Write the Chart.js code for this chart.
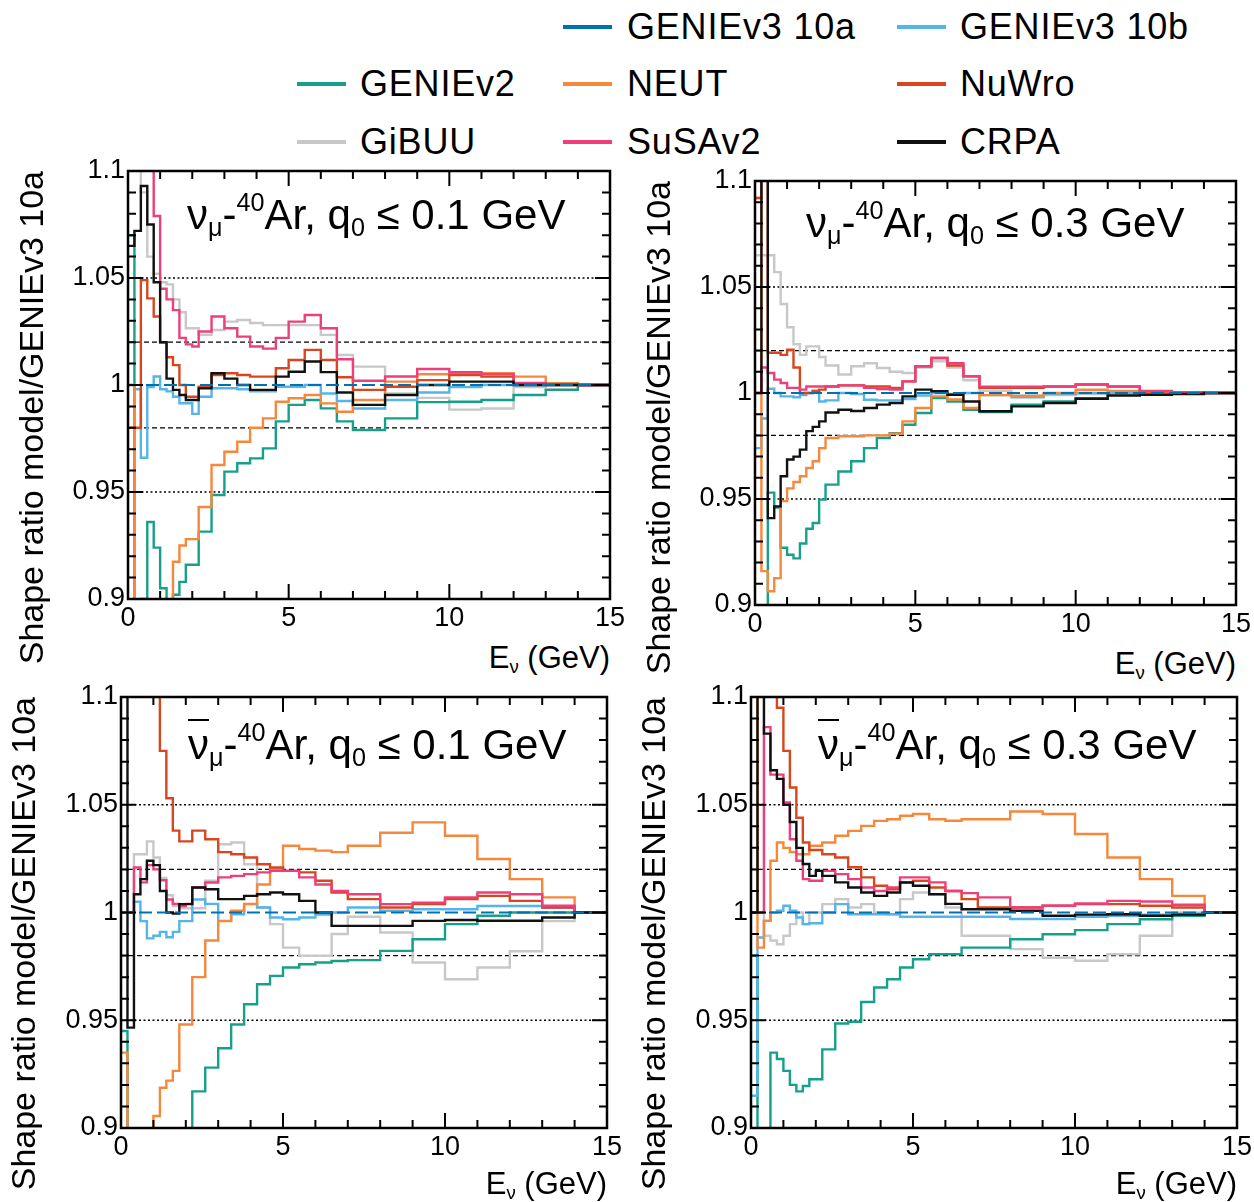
<!DOCTYPE html>
<html>
<head>
<meta charset="utf-8">
<script src="https://cdn.jsdelivr.net/npm/chart.js@4.4.1/dist/chart.umd.min.js"></script>
<style>
  body { margin: 0; background: #fff; }
  #page { position: relative; width: 1254px; height: 1202px; overflow: hidden;
          font-family: 'Liberation Sans', Arial, sans-serif; color: #000; }
  canvas { position: absolute; }
  .lg-line { position: absolute; height: 4px; width: 49px; }
  .lg-text { position: absolute; font-size: 36px; line-height: 36px; white-space: nowrap; letter-spacing: 0.8px; }
  .ttl { position: absolute; font-size: 42px; line-height: 42px; white-space: nowrap; }
  .ttl sub, .xt sub { position: relative; top: 0.28em; font-size: 0.6em; vertical-align: baseline; }
  .ttl sup { position: relative; top: -0.72em; font-size: 0.6em; vertical-align: baseline; }
  .bar { text-decoration: overline; text-decoration-thickness: 2px; }
  .yt { position: absolute; width: 600px; text-align: right; font-size: 34px; line-height: 34px;
        white-space: nowrap; transform-origin: 0 0; transform: rotate(-90deg); }
  .xt { position: absolute; width: 300px; text-align: right; font-size: 31px; line-height: 31px; white-space: nowrap; }
</style>
</head>
<body>
<div id="page">
  <div class="lg-line" style="left:563px;top:25px;background:#0072b2"></div>
  <div class="lg-text" style="left:627px;top:9px">GENIEv3 10a</div>
  <div class="lg-line" style="left:897px;top:25px;background:#56b4e9"></div>
  <div class="lg-text" style="left:960px;top:9px">GENIEv3 10b</div>

  <div class="lg-line" style="left:297px;top:82px;background:#17a089"></div>
  <div class="lg-text" style="left:360px;top:66px">GENIEv2</div>
  <div class="lg-line" style="left:563px;top:82px;background:#f5883c"></div>
  <div class="lg-text" style="left:627px;top:66px">NEUT</div>
  <div class="lg-line" style="left:897px;top:82px;background:#d7461f"></div>
  <div class="lg-text" style="left:960px;top:66px">NuWro</div>

  <div class="lg-line" style="left:297px;top:140px;background:#c8c8c8"></div>
  <div class="lg-text" style="left:360px;top:124px">GiBUU</div>
  <div class="lg-line" style="left:563px;top:140px;background:#ee3f7c"></div>
  <div class="lg-text" style="left:627px;top:124px">SuSAv2</div>
  <div class="lg-line" style="left:897px;top:140px;background:#111"></div>
  <div class="lg-text" style="left:960px;top:124px">CRPA</div>
</div>

<script>
// bin edges in E_nu (GeV), shared by all panels
const binEdges = [0, 0.2, 0.4, 0.6, 0.8, 1.0, 1.2, 1.4, 1.6, 1.8, 2.0, 2.2, 2.6, 3.0, 3.4, 3.8, 4.2, 4.6, 5.0, 5.5, 6.0, 6.5, 7, 8, 9, 10, 11, 12, 13, 14, 15];
const xTicks = [0, 5, 10, 15];
const yTicks = [0.9, 0.95, 1, 1.05, 1.1];

// GENIEv3 10a is the reference: ratio 1 everywhere
const refEdges = [0, 15];
const refRatio = [1, 1];

// panel 1: nu_mu - 40Ar, q0 <= 0.1 GeV
const p1_genie3b = [1.0,0.998,0.966,0.999,1.004,0.998,0.997,0.9945,0.9915,0.9915,0.9865, 0.9945,0.9985,0.9985,0.998,0.997,0.997,0.9992, 0.9992,1.0,0.996,0.9925, 0.989,0.993,0.9965,0.999,1.0,1.0,1.0, 1.0];
const p1_genie2  = [1.07,0.89,0.90,0.936,0.924,0.905,0.89,0.902,0.908,0.916,0.916, 0.9315,0.9486,0.9595,0.9634,0.9657,0.9704,0.983, 0.9907,0.993,0.9891,0.983, 0.979,0.9844,0.992,0.9922,0.993,0.9953,0.9977, 1.0];
const p1_neut    = [1.0,0.85,0.85,0.85,0.85,0.85,0.85,0.9174,0.925,0.928,0.928, 0.943,0.9626,0.9688,0.9735,0.98,0.9844,0.9922, 0.9938,0.9953,0.9914,0.9875, 0.993,1.0016,1.005,1.0055,1.0055,1.0039,1.0008, 1.0];
const p1_nuwro   = [0.98,0.98,1.049,1.0405,1.032,1.020,1.013,1.0093,1.0,0.9945,0.9945, 0.9992,1.0047,1.0055,1.0047,1.0039,1.0039,1.0078, 1.0117,1.0164,1.0117,1.0036, 0.9977,0.9992,1.0023,1.0047,1.0039,1.0008,1.0, 1.0];
const p1_gibuu   = [1.15,1.15,1.09,1.06,1.052,1.048,1.047,1.040,1.034,1.0265,1.0265, 1.0234,1.0257,1.0296,1.0304,1.029,1.028,1.028, 1.028,1.028,1.0234,1.014, 1.0086,0.996,0.994,0.9885,0.989,0.999,0.998, 1.0];
const p1_susa    = [1.15,1.15,1.15,1.15,1.079,1.045,1.040,1.035,1.022,1.019,1.018, 1.025,1.032,1.0265,1.0226,1.018,1.017,1.022, 1.0296,1.0327,1.0265,1.012, 1.002,1.004,1.0075,1.006,1.005,1.001,1.0003, 1.0];
const p1_crpa    = [1.065,1.072,1.093,1.075,1.048,1.02,1.003,0.9977,0.9953,0.993,0.993, 0.9984,1.0055,1.003,1.0,0.9977,0.9977,1.0039, 1.0062,1.011,1.006,0.9965, 0.9907,0.9953,1.0,1.0016,1.0016,1.0,1.0, 1.0];

// panel 2: nu_mu - 40Ar, q0 <= 0.3 GeV
const p2_genie3b = [0.974,0.988,1.002,1.0,0.9984,0.9984,0.998,0.999,1.0,1.001,0.996, 0.9965,1.0,0.9995,0.9968,0.9965,0.9965,0.9972, 0.9988,1.0,0.9995,1.0, 0.999,0.998,0.9995,1.0,1.0,1.0,1.0, 1.0];
const p2_genie2  = [0.88,0.88,0.953,0.946,0.927,0.9237,0.922,0.929,0.936,0.9387,0.9497, 0.9568,0.963,0.9678,0.974,0.9788,0.981,0.985, 0.9906,0.9976,0.996,0.9921, 0.991,0.9945,0.996,0.9976,1.0,1.0,1.0003, 1.0];
const p2_neut    = [1.092,0.916,0.9065,0.9127,0.949,0.955,0.958,0.9607,0.9646,0.9678,0.974, 0.9788,0.9796,0.9796,0.980,0.980,0.9808,0.9866, 0.9929,0.9984,0.9969,0.9929, 0.999,0.9985,1.0,1.0015,1.001,1.0,1.0003, 1.0];
const p2_nuwro   = [1.092,1.12,1.019,1.019,1.018,1.0204,1.012,1.0,1.0,1.001,1.0016, 1.0031,1.0036,1.0036,1.0031,1.0031,1.0024,1.0055, 1.0126,1.0165,1.013,1.0079, 1.0024,1.0024,1.0031,1.004,1.0031,1.0008,1.0003, 1.0];
const p2_gibuu   = [1.065,1.065,1.065,1.057,1.042,1.031,1.023,1.018,1.022,1.022,1.017, 1.013,1.0087,1.0126,1.014,1.0118,1.010,1.0094, 1.012,1.015,1.012,1.006, 1.001,0.999,0.999,0.9995,1.0,1.0,1.0, 1.0];
const p2_susa    = [1.0,1.012,1.0094,1.0063,1.0047,1.0024,1.0024,1.0016,1.0031,1.0031,1.0031, 1.0031,1.0036,1.0036,1.0024,1.0019,1.0016,1.0055, 1.0126,1.0165,1.014,1.0079, 1.003,1.003,1.003,1.004,1.003,1.001,1.0003, 1.0];
const p2_crpa    = [1.0,1.15,0.941,0.9465,0.9607,0.9686,0.970,0.9733,0.982,0.984,0.9866, 0.9908,0.9921,0.9915,0.9929,0.9945,0.9953,0.9984, 1.0016,1.0008,0.9992,0.996, 0.9914,0.9937,0.9953,0.9973,0.9988,0.9992,0.9995, 1.0];

// panel 3: anti-nu_mu - 40Ar, q0 <= 0.1 GeV
const p3_genie3b = [1.0,1.0,1.005,0.996,0.988,0.9892,0.991,0.9885,0.991,0.996,0.996, 1.006,1.004,0.9961,0.9992,1.0039,1.0023,0.9977, 0.9969,0.9977,0.999,1.0, 1.0023,1.0008,1.0015,1.0015,1.003,1.003,1.0023, 1.0];
const p3_genie2  = [0.945,0.85,0.85,0.85,0.85,0.85,0.85,0.85,0.85,0.85,0.85, 0.917,0.928,0.937,0.948,0.9574,0.9667,0.9706, 0.9745,0.976,0.9768,0.9775, 0.9779,0.9822,0.9876,0.9946,0.9985,1.0,1.0, 1.0];
const p3_neut    = [0.935,0.85,0.85,0.85,0.85,0.9056,0.9187,0.922,0.9265,0.948,0.948, 0.97,0.987,0.996,1.0008,1.004,1.013,1.02, 1.031,1.0295,1.0287,1.028, 1.031,1.037,1.0418,1.0356,1.0248,1.0155,1.007, 1.0];
const p3_nuwro   = [1.15,1.15,1.15,1.15,1.15,1.15,1.075,1.053,1.038,1.033,1.033, 1.038,1.034,1.028,1.027,1.0255,1.0224,1.0209, 1.0193,1.0186,1.0147,1.0093, 1.0062,1.0023,1.0039,1.0062,1.0077,1.0054,1.0023, 1.0];
const p3_gibuu   = [1.0,1.0,1.027,1.027,1.033,1.0255,1.016,1.008,1.003,1.002,1.002, 1.002,1.0147,1.0317,1.0325,1.0224,1.0023,0.9946, 0.9837,0.980,0.980,0.99, 0.998,0.9907,0.9768,0.969,0.9745,0.982,0.996, 1.0];
const p3_susa    = [1.0,1.0,1.0209,1.014,1.022,1.02,1.015,1.006,1.004,1.003,1.004, 1.0116,1.0139,1.0163,1.017,1.0178,1.0186,1.0193, 1.0193,1.0163,1.013,1.01, 1.0085,1.0039,1.0046,1.007,1.0093,1.0085,1.0031, 1.0];
const p3_crpa    = [1.15,0.9466,1.0085,1.0155,1.024,1.022,1.01,1.0,0.9995,1.0039,1.0039, 1.0116,1.0108,1.0062,1.0062,1.0077,1.0085,1.0093, 1.0085,1.0054,1.0,0.9938, 0.9938,0.9938,0.9961,0.9965,0.9962,0.9962,0.9977, 1.0];

// panel 4: anti-nu_mu - 40Ar, q0 <= 0.3 GeV
const p4_genie3b = [0.915,0.9884,0.9961,1.0,1.0008,1.0031,1.0008,0.9977,0.9946,0.995,0.995, 1.0,1.0039,0.9992,0.9992,0.9992,0.9992,0.998, 0.998,0.998,0.998,0.998, 0.998,0.997,0.997,0.998,0.9985,0.999,0.9995, 1.0];
const p4_genie2  = [0.98,0.85,0.85,0.935,0.932,0.9265,0.920,0.917,0.9195,0.9226,0.9226, 0.9365,0.9485,0.9493,0.9585,0.9652,0.969,0.9745, 0.9783,0.9806,0.9806,0.9837, 0.9837,0.9876,0.9899,0.9918,0.9946,0.9969,0.9985, 1.0];
const p4_neut    = [1.15,0.9837,0.9961,1.024,1.0325,1.030,1.028,1.027,1.027,1.031,1.031, 1.0325,1.0356,1.0379,1.0402,1.0425,1.0433,1.0449, 1.0457,1.0433,1.0426,1.0433, 1.0433,1.0469,1.0457,1.0364,1.0255,1.0155,1.0077, 1.0];
const p4_nuwro   = [1.15,1.15,1.15,1.15,1.095,1.075,1.058,1.044,1.0325,1.029,1.029, 1.027,1.0255,1.021,1.0163,1.0124,1.0108,1.014, 1.0147,1.0116,1.01,1.0062, 1.0023,1.0023,1.0031,1.0039,1.0039,1.0031,1.0023, 1.0];
const p4_gibuu   = [1.0,1.15,0.9892,0.987,0.9853,0.9892,0.9946,1.0,0.9946,1.0,1.0, 1.0039,1.0062,1.0023,1.0039,1.0,0.9992,1.0062, 1.0093,1.0085,1.0023,0.9892, 0.9892,0.983,0.979,0.9776,0.9806,0.9892,1.0, 1.0];
const p4_susa    = [1.0,1.0,1.086,1.064,1.064,1.0511,1.034,1.024,1.0155,1.0147,1.0147, 1.0193,1.0178,1.0155,1.0116,1.01,1.0116,1.0163, 1.0163,1.014,1.01,1.009, 1.007,1.0023,1.0031,1.0042,1.0054,1.0051,1.0036, 1.0];
const p4_crpa    = [1.0,1.15,1.083,1.066,1.062,1.05,1.042,1.030,1.0225,1.017,1.0193, 1.017,1.014,1.0116,1.0093,1.0077,1.0093,1.0139, 1.0124,1.0085,1.004,1.0015, 1.0015,1.0008,0.9985,0.999,0.9992,0.9985,0.999, 1.0];

// model styles, first one is drawn on top
const modelStyle = [
    { name: 'GENIEv3 10a', color: '#0072b2', dash: [13, 5] },
    { name: 'CRPA', color: '#111111' },
    { name: 'SuSAv2', color: '#ee3f7c' },
    { name: 'NuWro', color: '#d7461f' },
    { name: 'NEUT', color: '#f5883c' },
    { name: 'GENIEv3 10b', color: '#56b4e9' },
    { name: 'GENIEv2', color: '#17a089' },
    { name: 'GiBUU', color: '#c8c8c8' }
];

const panels = [
    { box: { L: 128, T: 171, R: 610, B: 599 }, anti: false, q0: '0.1', tx: 187, ty: 194, ytx: 14, xty: 642,
      series: { 'GENIEv3 10b': p1_genie3b, 'GENIEv2': p1_genie2, 'NEUT': p1_neut, 'NuWro': p1_nuwro, 'GiBUU': p1_gibuu, 'SuSAv2': p1_susa, 'CRPA': p1_crpa } },
    { box: { L: 755, T: 181, R: 1236, B: 605 }, anti: false, q0: '0.3', tx: 806, ty: 202, ytx: 641, xty: 648,
      series: { 'GENIEv3 10b': p2_genie3b, 'GENIEv2': p2_genie2, 'NEUT': p2_neut, 'NuWro': p2_nuwro, 'GiBUU': p2_gibuu, 'SuSAv2': p2_susa, 'CRPA': p2_crpa } },
    { box: { L: 121, T: 697, R: 607, B: 1128 }, anti: true, q0: '0.1', tx: 188, ty: 724, ytx: 6, xty: 1168,
      series: { 'GENIEv3 10b': p3_genie3b, 'GENIEv2': p3_genie2, 'NEUT': p3_neut, 'NuWro': p3_nuwro, 'GiBUU': p3_gibuu, 'SuSAv2': p3_susa, 'CRPA': p3_crpa } },
    { box: { L: 751, T: 697, R: 1237, B: 1128 }, anti: true, q0: '0.3', tx: 818, ty: 724, ytx: 636, xty: 1168,
      series: { 'GENIEv3 10b': p4_genie3b, 'GENIEv2': p4_genie2, 'NEUT': p4_neut, 'NuWro': p4_nuwro, 'GiBUU': p4_gibuu, 'SuSAv2': p4_susa, 'CRPA': p4_crpa } }
];

// horizontal guide lines
const guides = [
    { value: 1.05, dash: [2, 2.5] }, { value: 0.95, dash: [2, 2.5] },
    { value: 1.02, dash: [5, 3] }, { value: 0.98, dash: [5, 3] }
];

Chart.defaults.font.family = "'Liberation Sans', Arial, sans-serif";
Chart.defaults.color = '#000';

function histPoints(edges, vals) {
    const pts = vals.map((v, i) => ({ x: edges[i], y: v }));
    pts.push({ x: edges[vals.length], y: vals[vals.length - 1] });
    return pts;
}

// ROOT-like frame with inward ticks and guide lines
const rootFrame = {
    id: 'rootFrame',
    beforeDatasetsDraw(chart) {
        const { ctx, chartArea: a, scales: { y } } = chart;
        ctx.save();
        ctx.strokeStyle = '#000';
        ctx.lineWidth = 1.3;
        guides.forEach(g => {
            const py = y.getPixelForValue(g.value);
            ctx.setLineDash(g.dash);
            ctx.beginPath(); ctx.moveTo(a.left, py); ctx.lineTo(a.right, py); ctx.stroke();
        });
        ctx.restore();
    },
    afterDatasetsDraw(chart) {
        const { ctx, chartArea: a, scales: { x, y } } = chart;
        ctx.save();
        ctx.strokeStyle = '#000';
        ctx.lineWidth = 2;
        ctx.beginPath();
        for (let k = 1; k < 15; k++) {
            const px = x.getPixelForValue(k);
            const len = k % 5 === 0 ? 15 : 8;
            ctx.moveTo(px, a.bottom); ctx.lineTo(px, a.bottom - len);
            ctx.moveTo(px, a.top); ctx.lineTo(px, a.top + len);
        }
        for (let k = 1; k < 20; k++) {
            const py = y.getPixelForValue(0.9 + k * 0.01);
            const len = k % 5 === 0 ? 15 : 8;
            ctx.moveTo(a.left, py); ctx.lineTo(a.left + len, py);
            ctx.moveTo(a.right, py); ctx.lineTo(a.right - len, py);
        }
        ctx.stroke();
        ctx.lineWidth = 2.5;
        ctx.strokeRect(a.left, a.top, a.right - a.left, a.bottom - a.top);
        ctx.restore();
    }
};

const page = document.getElementById('page');
const AXW = 90, AXH = 40, PT = 14, PR = 24;

panels.forEach(p => {
    const b = p.box;
    const cv = document.createElement('canvas');
    const w = b.R - b.L + AXW + PR, h = b.B - b.T + PT + AXH;
    cv.width = w; cv.height = h;
    cv.style.left = (b.L - AXW) + 'px';
    cv.style.top = (b.T - PT) + 'px';
    cv.style.width = w + 'px'; cv.style.height = h + 'px';
    page.appendChild(cv);

    const datasets = modelStyle.map(m => {
        const pts = m.name === 'GENIEv3 10a' ? histPoints(refEdges, refRatio) : histPoints(binEdges, p.series[m.name]);
        return {
            label: m.name, data: pts, borderColor: m.color, borderWidth: m.dash ? 2 : 2.4,
            borderDash: m.dash || [], stepped: 'before', pointRadius: 0, fill: false
        };
    });

    new Chart(cv.getContext('2d'), {
        type: 'line',
        data: { datasets },
        options: {
            responsive: false, animation: false, devicePixelRatio: 1,
            layout: { padding: { top: PT, right: PR, left: 0, bottom: 0 } },
            plugins: { legend: { display: false }, tooltip: { enabled: false } },
            scales: {
                x: {
                    type: 'linear', min: 0, max: 15,
                    afterBuildTicks: s => { s.ticks = xTicks.map(v => ({ value: v })); },
                    ticks: { padding: 3, font: { size: 27 }, maxRotation: 0, autoSkip: false },
                    grid: { display: false, drawTicks: false }, border: { display: false },
                    afterFit: s => { s.height = AXH; s.paddingLeft = 0; s.paddingRight = 0; }
                },
                y: {
                    type: 'linear', min: 0.9, max: 1.1,
                    afterBuildTicks: s => { s.ticks = yTicks.map(v => ({ value: v })); },
                    ticks: { padding: 3, font: { size: 27 }, callback: v => String(Number(v.toFixed(3))) },
                    grid: { display: false, drawTicks: false }, border: { display: false },
                    afterFit: s => { s.width = AXW; s.paddingTop = 0; s.paddingBottom = 0; }
                }
            }
        },
        plugins: [rootFrame]
    });

    // panel title
    const t = document.createElement('div');
    t.className = 'ttl';
    t.style.left = p.tx + 'px'; t.style.top = p.ty + 'px';
    t.innerHTML = (p.anti ? '<span class="bar">ν</span>' : 'ν') +
        '<sub>μ</sub>-<sup>40</sup>Ar, q<sub>0</sub> ≤ ' + p.q0 + ' GeV';
    page.appendChild(t);

    // y title
    const yt = document.createElement('div');
    yt.className = 'yt';
    yt.style.left = p.ytx + 'px';
    yt.style.top = (b.T + 600) + 'px';
    yt.textContent = 'Shape ratio model/GENIEv3 10a';
    page.appendChild(yt);

    // x title
    const xt = document.createElement('div');
    xt.className = 'xt';
    xt.style.left = (b.R - 300) + 'px';
    xt.style.top = p.xty + 'px';
    xt.innerHTML = 'E<sub>ν</sub> (GeV)';
    page.appendChild(xt);
});
</script>
</body>
</html>
